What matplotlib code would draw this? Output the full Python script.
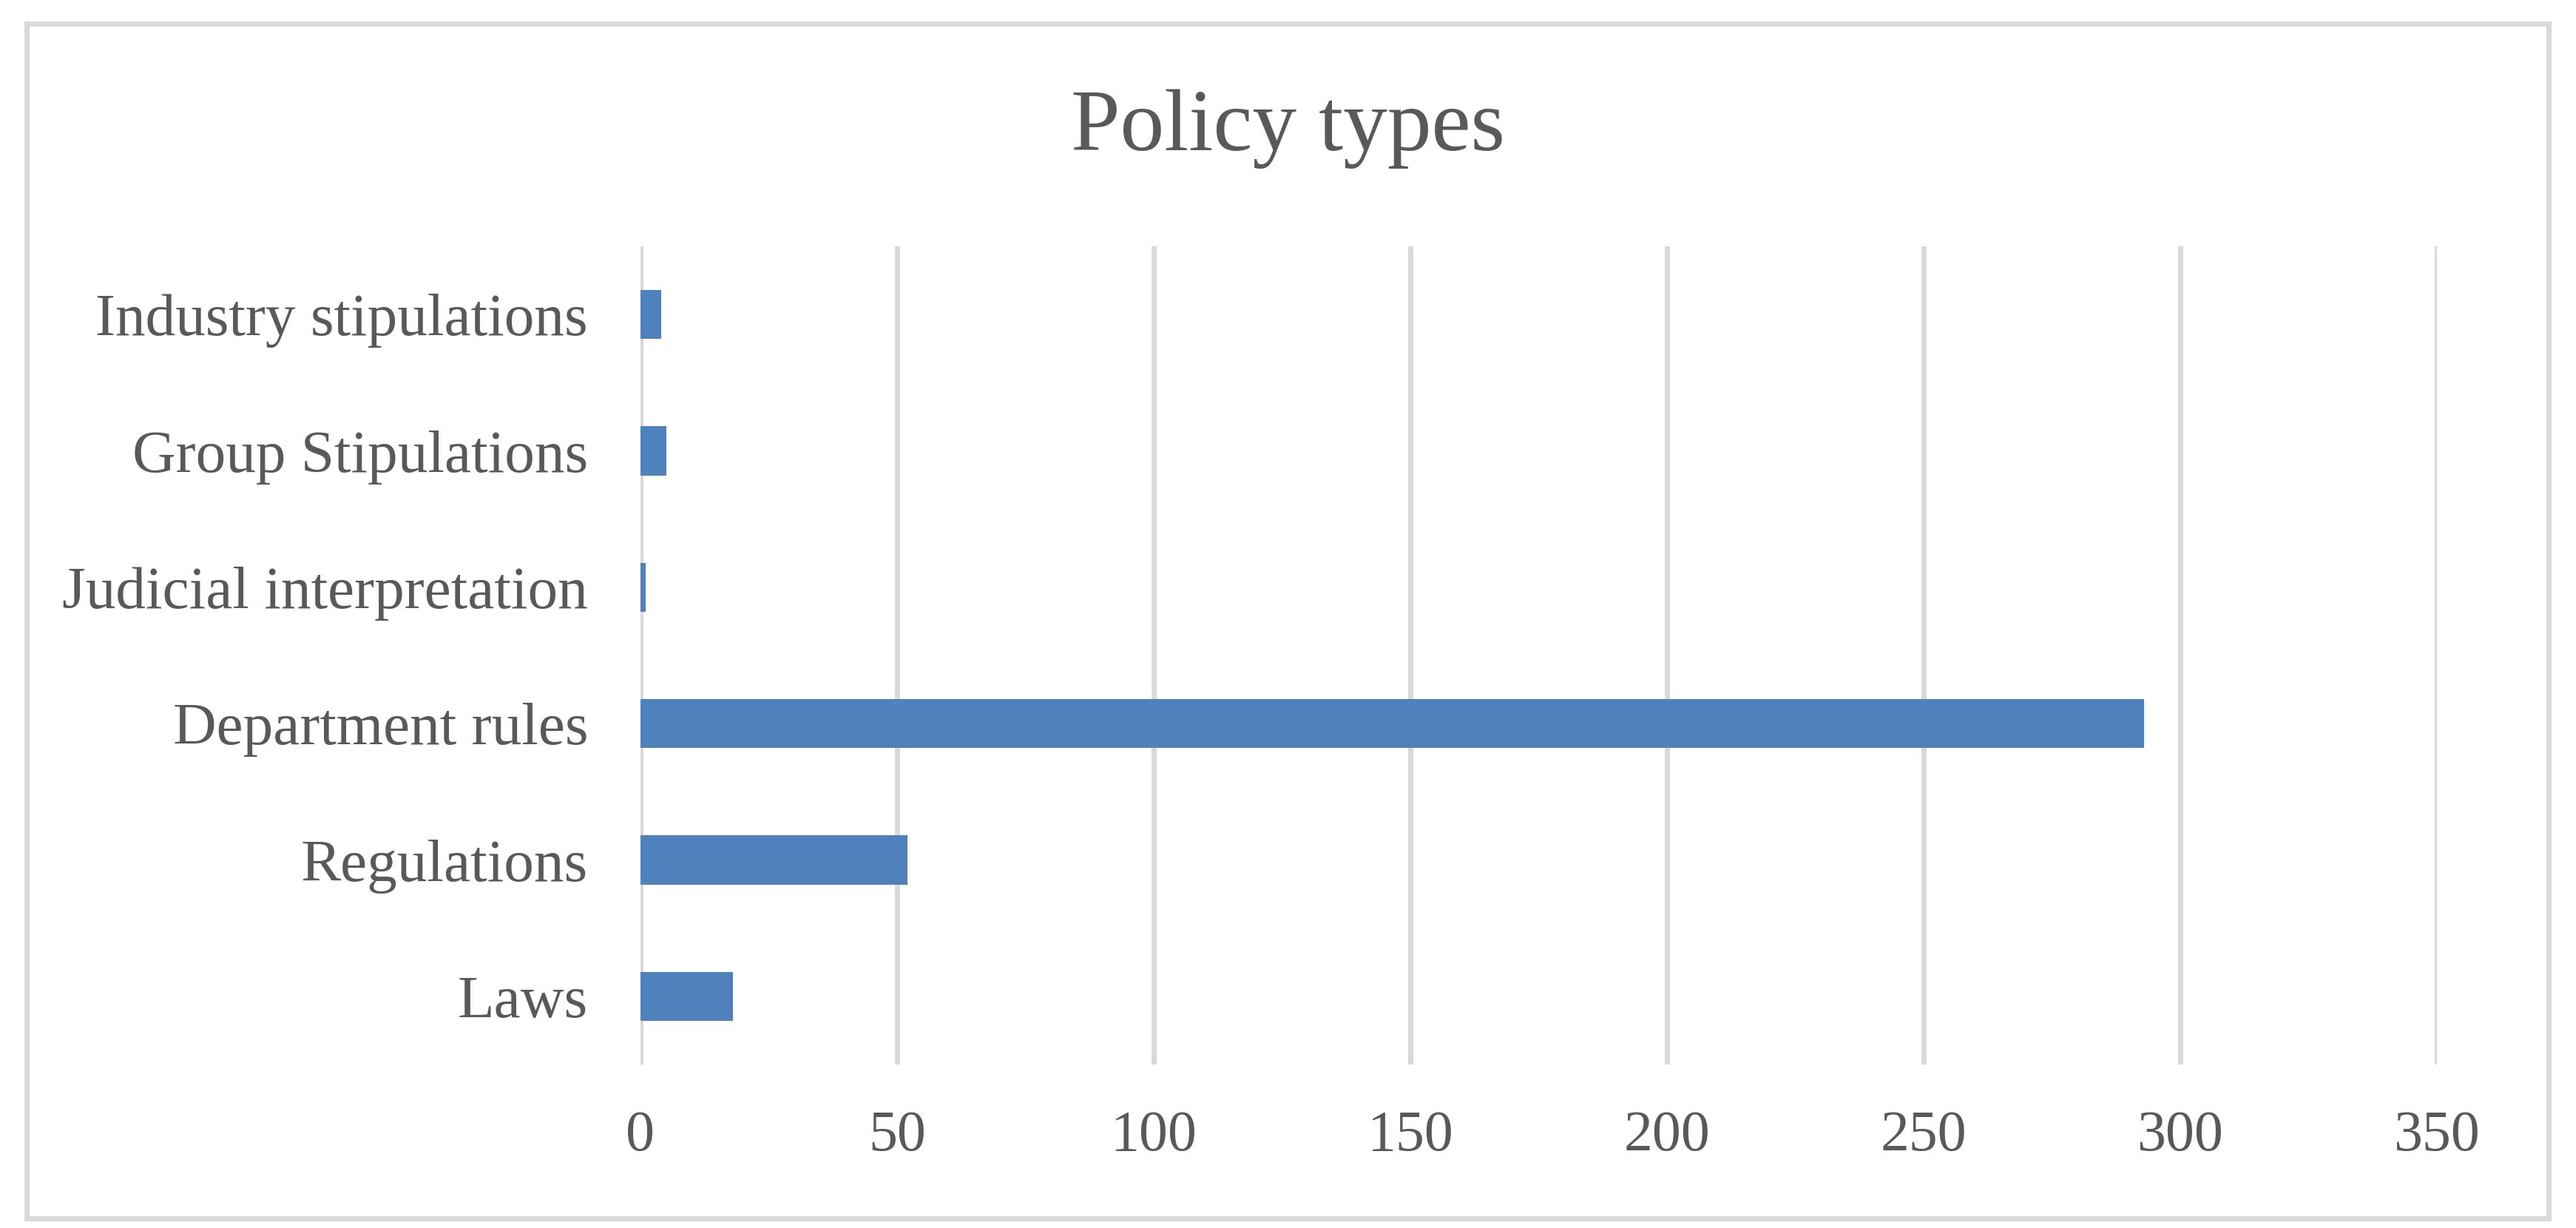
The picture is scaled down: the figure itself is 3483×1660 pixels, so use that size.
import matplotlib
matplotlib.use("Agg")
import matplotlib.pyplot as plt
from matplotlib.patches import Rectangle

# Data (bottom to top)
categories = ["Laws", "Regulations", "Department rules", "Judicial interpretation",
              "Group Stipulations", "Industry stipulations"]
counts = [18, 52, 293, 1, 5, 4]
xticks = [0, 50, 100, 150, 200, 250, 300, 350]

bar_color = "#4F81BD"
grid_color = "#D9D9D9"
text_color = "#595959"

plt.rcParams["font.family"] = ["Liberation Serif", "DejaVu Serif"]

fig = plt.figure(figsize=(34.83, 16.60), dpi=100)
ax = fig.add_axes([0.2486, 0.1331, 0.6974, 0.6663])

# Horizontal bars
ax.barh(range(len(categories)), counts, height=0.36, color=bar_color, zorder=2)

ax.set_xlim(0, 350)
ax.set_ylim(-0.5, len(categories) - 0.5)
ax.set_xticks(xticks)
ax.set_yticks(range(len(categories)))
ax.set_yticklabels(categories)

# Vertical gridlines only, no spines or tick marks
ax.grid(axis="x", color=grid_color, linewidth=5, zorder=0)
ax.set_axisbelow(True)
for s in ax.spines.values():
    s.set_visible(False)
ax.tick_params(axis="both", length=0, colors=text_color)
ax.tick_params(axis="x", pad=44, labelsize=56)
ax.tick_params(axis="y", pad=51, labelsize=58.5)

# Title
fig.text(0.5, 0.8777, "Policy types", ha="center", va="baseline",
         fontsize=86, color=text_color)

# Outer chart border
fig.patches.append(Rectangle((0.0102, 0.0078), 0.9793, 0.9732, transform=fig.transFigure,
                             fill=False, edgecolor=grid_color, linewidth=5))

plt.savefig("out.png", dpi=100)
